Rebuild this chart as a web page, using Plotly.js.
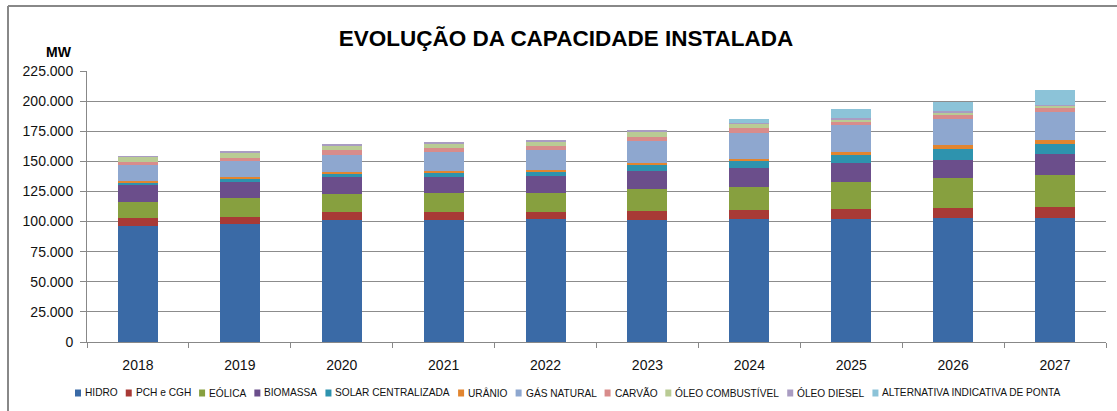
<!DOCTYPE html>
<html>
<head>
<meta charset="utf-8">
<script src="https://cdn.plot.ly/plotly-3.0.1.min.js"></script>
<style>html,body{margin:0;padding:0;background:#fff;}#chart{width:1117px;height:411px;}</style>
</head>
<body>
<div id="chart"></div>
<script>
const years = ['2018','2019','2020','2021','2022','2023','2024','2025','2026','2027'];
const hidro      = [96100, 97800, 101400, 101400, 101900, 101500, 101900, 102200, 102800, 103100];
const pch        = [6700, 6200, 6700, 6700, 6400, 7400, 7800, 8100, 8600, 9200];
const eolica     = [13300, 15500, 14700, 15500, 15300, 18300, 19400, 22500, 24400, 26700];
const biomassa   = [14200, 13300, 13900, 13300, 13900, 14400, 15300, 16100, 15600, 16700];
const solar      = [1400, 2500, 2500, 3300, 3900, 5000, 5600, 6400, 8900, 8900];
const uranio     = [1800, 1900, 1700, 1900, 1800, 1900, 2100, 2200, 3200, 3100];
const gas        = [13300, 12800, 14700, 15500, 16100, 18000, 21400, 22400, 21800, 23000];
const carvao     = [2800, 2800, 4100, 3300, 3300, 3400, 4100, 3000, 3300, 3300];
const oleoComb   = [3600, 4100, 3300, 3600, 3600, 4600, 3100, 1700, 1600, 1700];
const oleoDiesel = [1100, 1700, 1100, 1400, 1900, 1700, 1100, 1600, 1400, 900];
const ponta      = [0, 0, 0, 0, 0, 0, 3400, 7100, 7500, 13000];

const seriesNames = ['HIDRO','PCH e CGH','EÓLICA','BIOMASSA','SOLAR CENTRALIZADA','URÂNIO','GÁS NATURAL','CARVÃO','ÓLEO COMBUSTÍVEL','ÓLEO DIESEL','ALTERNATIVA INDICATIVA DE PONTA'];
const seriesValues = [hidro, pch, eolica, biomassa, solar, uranio, gas, carvao, oleoComb, oleoDiesel, ponta];
const colors = ['#3A6AA6','#A83A36','#87A03F','#6B4E8B','#2E93AE','#E2852F','#8EA7CF','#D88C8B','#B9CB94','#A99CC2','#8CC3D8'];
const yTickVals = [0,25000,50000,75000,100000,125000,150000,175000,200000,225000];

// plot area in pixels
const L = 87, R = 1106, T = 71, B = 342;
const px = x => (x - L) / (R - L);
const py = y => (B - y) / (B - T);

const traces = seriesNames.map((n, i) => ({
  type: 'bar', name: n, x: years, y: seriesValues[i],
  marker: {color: colors[i], line: {width: 0}},
  showlegend: false, hoverinfo: 'skip'
}));

// manual single-row legend, laid out from measured text widths
const legFamily = 'Liberation Sans, Arial, sans-serif';
const legStartX = 75, legEndX = 1063, sq = 6, gapSqText = 3, gapItems = 7, legY = 393;
const ctx = document.createElement('canvas').getContext('2d');
ctx.font = '100px "Liberation Sans"';
const w100 = seriesNames.map(n => ctx.measureText(n).width);
const totalW100 = w100.reduce((a, b) => a + b, 0);
const overhead = seriesNames.length * (sq + gapSqText + gapItems) - gapItems + 2 * seriesNames.length;
const legSize = Math.min(11, 100 * (legEndX - legStartX - overhead) / totalW100);
const shapes = [];
const annotations = [];
let cur = legStartX;
seriesNames.forEach((n, i) => {
  shapes.push({type:'rect', xref:'paper', yref:'paper', x0:px(cur), x1:px(cur+sq), y0:py(legY+3.5), y1:py(legY-3.5), fillcolor:colors[i], line:{width:0}});
  const tx = cur + sq + gapSqText;
  annotations.push({xref:'paper', yref:'paper', x:px(tx), y:py(legY), xanchor:'left', yanchor:'middle', text:n, showarrow:false,
                    font:{family: legFamily, size: legSize, color:'#111'}, borderpad:0});
  cur = tx + w100[i] * legSize / 100 + 2 + gapItems;
});
// border (top + left)
shapes.push({type:'line', xref:'paper', yref:'paper', x0:px(8), x1:px(1117), y0:py(6), y1:py(6), line:{color:'#888', width:2}});
shapes.push({type:'line', xref:'paper', yref:'paper', x0:px(8), x1:px(8), y0:py(6), y1:py(411), line:{color:'#888', width:2}});
// MW label
annotations.push({xref:'paper', yref:'paper', x:px(74), y:py(52), xanchor:'right', yanchor:'middle', text:'<b>MW</b>', showarrow:false, font:{family:'Liberation Sans, Arial, sans-serif', size:14, color:'#000'}});

const layout = {
  width: 1117, height: 411,
  margin: {l: L, r: 1117 - R, t: T, b: 411 - B, pad: 0},
  paper_bgcolor: '#fff', plot_bgcolor: '#fff',
  separators: ',.',
  barmode: 'stack', bargap: 0.607,
  title: {text: '<b>EVOLUÇÃO DA CAPACIDADE INSTALADA</b>', x: 566/1117, xanchor: 'center', xref: 'container', y: 1 - 38/411, yanchor: 'middle', yref: 'container',
          font: {family: 'Liberation Sans, Arial, sans-serif', size: 22.5, color: '#000'}},
  xaxis: {type: 'category', tickson: 'boundaries', ticks: 'outside', ticklen: 5, tickcolor: '#888', tickwidth: 1,
          showline: true, linecolor: '#888', linewidth: 1, showgrid: false, zeroline: false,
          tickfont: {family: 'Liberation Sans, Arial, sans-serif', size: 14, color: '#111'}, ticklabelstandoff: 10},
  yaxis: {range: [0, 225000], tickvals: yTickVals, tickformat: ',d', ticks: 'outside', ticklen: 6, tickcolor: '#888', tickwidth: 1,
          showline: true, linecolor: '#888', linewidth: 1, showgrid: true, gridcolor: '#8c8c8c', gridwidth: 1, zeroline: false,
          tickfont: {family: 'Liberation Sans, Arial, sans-serif', size: 14, color: '#111'}, ticklabelstandoff: 4},
  shapes: shapes, annotations: annotations,
  hovermode: false
};
Plotly.newPlot('chart', traces, layout, {displayModeBar: false, staticPlot: true});
</script>
</body>
</html>
